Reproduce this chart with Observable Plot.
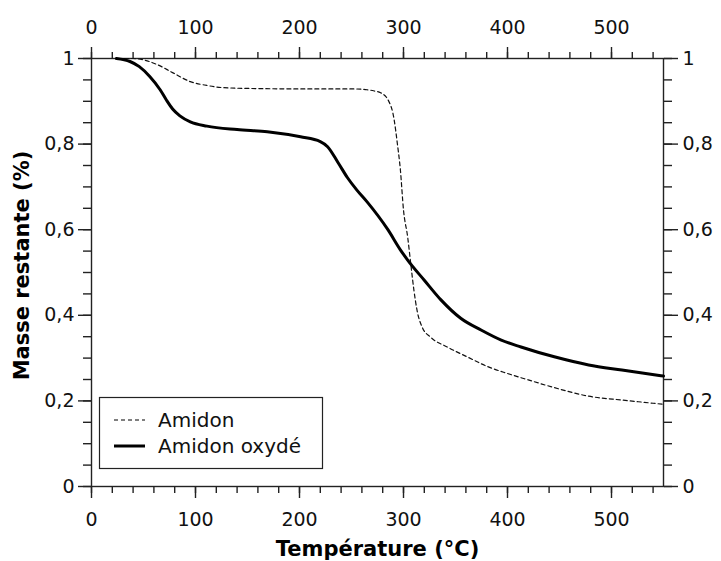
<!DOCTYPE html>
<html>
<head>
<meta charset="utf-8">
<script src="https://cdn.jsdelivr.net/npm/d3@7"></script>
<script src="https://cdn.jsdelivr.net/npm/@observablehq/plot@0.6"></script>
<style>
  html, body { margin: 0; padding: 0; background: #fff; }
  #chart { position: relative; width: 721px; height: 561px; }
</style>
</head>
<body>
<div id="chart"></div>
<script>
// Amidon (dashed)
const tempAmidon  = [25, 40, 63, 78, 95, 111, 126, 152, 200, 250, 265, 272, 278, 285, 291, 294, 297, 300, 304, 307, 310, 313, 318, 326, 342, 362, 381, 400, 420, 445, 478, 510, 530, 550];
const masseAmidon = [1, 1, 0.986, 0.967, 0.946, 0.937, 0.932, 0.930, 0.929, 0.929, 0.927, 0.924, 0.920, 0.904, 0.857, 0.803, 0.740, 0.646, 0.583, 0.520, 0.459, 0.412, 0.372, 0.349, 0.326, 0.302, 0.280, 0.264, 0.249, 0.231, 0.211, 0.202, 0.197, 0.192];
// Amidon oxydé (solid)
const tempOxyde  = [24, 37, 46, 56, 66, 72, 78, 85, 95, 111, 140, 169, 201, 220, 227, 237, 246, 255, 265, 285, 297, 304, 320, 336, 355, 375, 394, 413, 445, 478, 510, 550];
const masseOxyde = [1, 0.993, 0.981, 0.958, 0.927, 0.903, 0.882, 0.866, 0.852, 0.842, 0.834, 0.829, 0.817, 0.806, 0.794, 0.757, 0.722, 0.693, 0.665, 0.600, 0.553, 0.529, 0.482, 0.436, 0.393, 0.365, 0.342, 0.326, 0.303, 0.284, 0.272, 0.258];

const seriesNames = ["Amidon", "Amidon oxydé"];
const xMajor = [0, 100, 200, 300, 400, 500];
const xMinor = d3.range(0, 551, 20);
const yMajor = [0, 0.2, 0.4, 0.6, 0.8, 1];
const yMinor = d3.range(0, 1.0001, 0.05);
const xTitle = "Température (°C)";
const yTitle = "Masse restante (%)";

const amidon = tempAmidon.map((t, i) => ({t, m: masseAmidon[i]}));
const oxyde = tempOxyde.map((t, i) => ({t, m: masseOxyde[i]}));

const fmtY = d => d === 0 ? "0" : d === 1 ? "1" : d.toFixed(1).replace(".", ",");
const axisColor = "#222";
const tickFont = 19;

const plot = Plot.plot({
  width: 721,
  height: 561,
  marginLeft: 91,
  marginRight: 58,
  marginTop: 58,
  marginBottom: 75,
  style: {fontFamily: "'DejaVu Sans', Verdana, sans-serif", color: "#111", background: "#fff"},
  x: {domain: [0, 550]},
  y: {domain: [0, 1]},
  marks: [
    Plot.frame({stroke: axisColor, strokeWidth: 1.4}),
    // bottom
    Plot.axisX(xMajor, {anchor: "bottom", tickSize: 12, tickPadding: 14, fontSize: tickFont, label: null, stroke: axisColor, strokeWidth: 1.4}),
    Plot.axisX(xMinor, {anchor: "bottom", tickSize: 7, tickFormat: () => "", label: null, stroke: axisColor, strokeWidth: 1.4}),
    // top
    Plot.axisX(xMajor, {anchor: "top", tickSize: 12, tickPadding: 13, fontSize: tickFont, label: null, stroke: axisColor, strokeWidth: 1.4}),
    Plot.axisX(xMinor, {anchor: "top", tickSize: 7, tickFormat: () => "", label: null, stroke: axisColor, strokeWidth: 1.4}),
    // left
    Plot.axisY(yMajor, {anchor: "left", tickSize: 13, tickPadding: 4, fontSize: tickFont, tickFormat: fmtY, label: null, stroke: axisColor, strokeWidth: 1.4}),
    Plot.axisY(yMinor, {anchor: "left", tickSize: 8, tickFormat: () => "", label: null, stroke: axisColor, strokeWidth: 1.4}),
    // right
    Plot.axisY(yMajor, {anchor: "right", tickSize: 14, tickPadding: 5, fontSize: tickFont, tickFormat: fmtY, label: null, stroke: axisColor, strokeWidth: 1.4}),
    Plot.axisY(yMinor, {anchor: "right", tickSize: 8, tickFormat: () => "", label: null, stroke: axisColor, strokeWidth: 1.4}),
    // curves
    Plot.line(amidon, {x: "t", y: "m", stroke: "#111", strokeWidth: 1.2, strokeDasharray: "4,3", curve: "monotone-x"}),
    Plot.line(oxyde, {x: "t", y: "m", stroke: "#000", strokeWidth: 3, curve: "monotone-x"}),
    // titles
    Plot.text([xTitle], {text: d => d, frameAnchor: "bottom", dy: 63, textAnchor: "middle", lineAnchor: "middle", fontSize: 21, fontWeight: "bold", fill: "#000"}),
    Plot.text([yTitle], {text: d => d, frameAnchor: "left", dx: -69, dy: -7, rotate: -90, textAnchor: "middle", lineAnchor: "middle", fontSize: 21, fontWeight: "bold", fill: "#000"})
  ]
});

// Legend inside the frame
const svg = d3.select(plot);
const lg = svg.append("g").attr("font-family", "'DejaVu Sans', Verdana, sans-serif").attr("text-anchor", "start");
lg.append("rect").attr("x", 99.5).attr("y", 397.5).attr("width", 223).attr("height", 71)
  .attr("fill", "#fff").attr("stroke", axisColor).attr("stroke-width", 1.2);
const styles = [
  {dash: "4,3", w: 1.2},
  {dash: null, w: 3}
];
seriesNames.forEach((name, i) => {
  const cy = 420 + i * 26;
  const l = lg.append("line").attr("x1", 114).attr("x2", 145).attr("y1", cy).attr("y2", cy)
    .attr("stroke", "#000").attr("stroke-width", styles[i].w);
  if (styles[i].dash) l.attr("stroke-dasharray", styles[i].dash);
  lg.append("text").attr("x", 158).attr("y", cy).attr("dy", "0.35em")
    .attr("text-anchor", "start").attr("font-size", 20).attr("fill", "#111").text(name);
});

document.getElementById("chart").appendChild(plot);
</script>
</body>
</html>
